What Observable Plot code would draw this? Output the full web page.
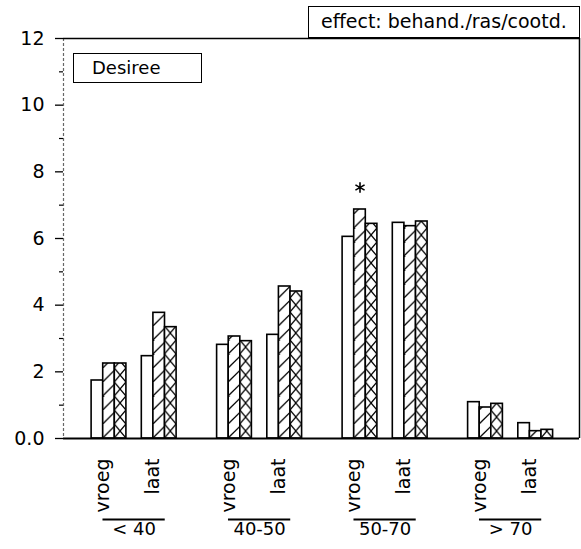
<!DOCTYPE html>
<html><head><meta charset="utf-8">
<script src="https://cdn.jsdelivr.net/npm/d3@7"></script>
<script src="https://cdn.jsdelivr.net/npm/@observablehq/plot@0.6"></script>
<style>
body{margin:0;background:#fff;}
#wrap{position:relative;width:581px;height:549px;font-family:"DejaVu Sans",sans-serif;color:#000;}
.box{position:absolute;box-sizing:border-box;border:1.5px solid #000;background:#fff;white-space:nowrap;}
#title{left:308px;top:6px;width:272px;height:32px;font-size:19px;line-height:28px;padding-left:12px;}
#variety{left:73px;top:53px;width:129px;height:30px;font-size:18px;line-height:27px;padding-left:18px;}
</style></head><body>
<div id="wrap">
<div id="chart"></div>
<div class="box" id="title"></div>
<div class="box" id="variety"></div>
</div>
<script>
// ---- data ----
const ages = ["< 40", "40-50", "50-70", "> 70"];
const periods = ["vroeg", "laat"];
const treatments = ["blanco", "behandeling 1", "behandeling 2"];
const valuesVroeg = [[1.74, 2.25, 2.25], [2.81, 3.06, 2.92], [6.05, 6.87, 6.44], [1.09, 0.93, 1.04]];
const valuesLaat  = [[2.47, 3.77, 3.34], [3.11, 4.56, 4.41], [6.47, 6.37, 6.51], [0.46, 0.22, 0.26]];
const yTicks = [0, 2, 4, 6, 8, 10, 12];
const yTickLabels = ["0.0", "2", "4", "6", "8", "10", "12"];
const yMinorTicks = [1, 3, 5, 7, 9, 11];
const significant = [{age: "50-70", period: "vroeg", treatment: "behandeling 1"}];
const titleText = "effect: behand./ras/cootd.";
const varietyText = "Desiree";

document.getElementById("title").textContent = titleText;
document.getElementById("variety").textContent = varietyText;

// ---- layout (in x-scale units) ----
const groupStep = 5, periodStep = 2, barW = 0.462, lineHalf = 1.24;
const xDomain = [-1.813, 18.745];
const seriesValues = [valuesVroeg, valuesLaat];

const rows = ages.flatMap((age, ai) => periods.flatMap((period, pi) => treatments.map((treatment, ti) => ({
  age, period, treatment, ti,
  value: seriesValues[pi][ai][ti],
  pos: ai * groupStep + pi * periodStep
}))));
const periodRows = ages.flatMap((age, ai) => periods.map((period, pi) => ({age, period, pos: ai * groupStep + pi * periodStep})));
const ageRows = ages.map((age, ai) => ({age, center: ai * groupStep + periodStep / 2}));
const sigRows = rows.filter(d => significant.some(s => s.age === d.age && s.period === d.period && s.treatment === d.treatment));

const barMark = (ti) => Plot.rectY(rows.filter(d => d.ti === ti), {
  x1: d => d.pos + (d.ti - 1.5) * barW,
  x2: d => d.pos + (d.ti - 0.5) * barW,
  y1: d => 0, y2: "value",
  fill: "white", stroke: "black", strokeWidth: 1.6
});

const plot = Plot.plot({
  width: 581, height: 549,
  marginLeft: 63, marginRight: 2, marginTop: 38, marginBottom: 111,
  style: {fontFamily: "DejaVu Sans, sans-serif", fontSize: "19px", color: "black", background: "white"},
  x: {domain: xDomain, axis: null},
  y: {domain: [0, 12], axis: null},
  marks: [
    Plot.ruleX([xDomain[0]], {stroke: "#666", strokeDasharray: "3,2", strokeWidth: 1.2}),
    Plot.ruleX([xDomain[1]], {stroke: "black", strokeWidth: 1.5}),
    Plot.ruleY([12], {stroke: "black", strokeWidth: 1.3}),
    Plot.axisY(yMinorTicks, {tickSize: 4, tickFormat: () => "", label: null, strokeWidth: 1.2}),
    Plot.axisY(yTicks, {tickSize: 8, tickPadding: 11, tickFormat: d => yTickLabels[yTicks.indexOf(d)], label: null, fontSize: 19, strokeWidth: 1.3}),
    barMark(0), barMark(1), barMark(2),
    Plot.ruleY([0], {stroke: "black", strokeWidth: 2}),
    Plot.dot(sigRows, {x: d => d.pos + (d.ti - 1) * barW, y: "value", symbol: "asterisk", r: 5, dy: -22, stroke: "black", strokeWidth: 1.6}),
    Plot.text(periodRows, {x: "pos", frameAnchor: "bottom", text: "period", rotate: -90, textAnchor: "end", dy: 20, fontSize: 19}),
    Plot.ruleY(ageRows, {x1: d => d.center - lineHalf, x2: d => d.center + lineHalf, y: d => 0, dy: 81, stroke: "black", strokeWidth: 2}),
    Plot.text(ageRows, {x: "center", frameAnchor: "bottom", text: "age", dy: 96, fontSize: 18})
  ]
});
document.getElementById("chart").appendChild(plot);

// ---- hatch patterns aligned to each bar ----
const ns = "http://www.w3.org/2000/svg";
const defs = document.createElementNS(ns, "defs");
plot.insertBefore(defs, plot.firstChild);
const base = plot.scale("y").apply(0);
const period = 14;
let pid = 0;
function makePattern(x, w, kind) {
  const p = document.createElementNS(ns, "pattern");
  const id = "pat" + (pid++);
  p.setAttribute("id", id);
  p.setAttribute("patternUnits", "userSpaceOnUse");
  p.setAttribute("x", x); p.setAttribute("y", base);
  p.setAttribute("width", w); p.setAttribute("height", period);
  const bg = document.createElementNS(ns, "rect");
  bg.setAttribute("width", w); bg.setAttribute("height", period); bg.setAttribute("fill", "white");
  p.appendChild(bg);
  const segs = kind === "hatch"
    ? [[0, period, w, period - w]]
    : [[0, 0, w, period], [0, period, w, 0]];
  for (const [x1, y1, x2, y2] of segs) {
    const l = document.createElementNS(ns, "line");
    l.setAttribute("x1", x1); l.setAttribute("y1", y1); l.setAttribute("x2", x2); l.setAttribute("y2", y2);
    l.setAttribute("stroke", "black"); l.setAttribute("stroke-width", 1.3);
    p.appendChild(l);
  }
  defs.appendChild(p);
  return "url(#" + id + ")";
}
const barGroups = Array.from(plot.querySelectorAll("g")).filter(g => g.querySelector(":scope > rect"));
[[1, "hatch"], [2, "cross"]].forEach(([gi, kind]) => {
  const g = barGroups[gi];
  if (!g) return;
  g.removeAttribute("fill");
  g.querySelectorAll(":scope > rect").forEach(r => {
    const x = parseFloat(r.getAttribute("x")), w = parseFloat(r.getAttribute("width"));
    r.setAttribute("fill", makePattern(x, w, kind));
  });
});
</script>
</body></html>
